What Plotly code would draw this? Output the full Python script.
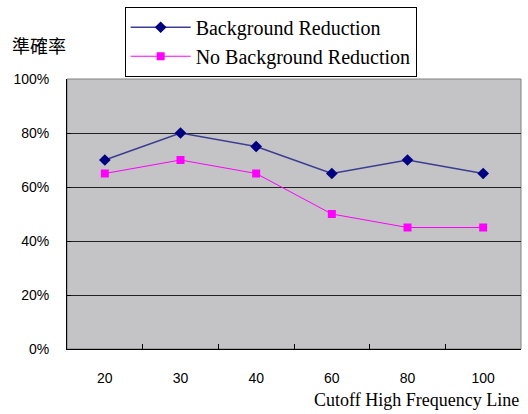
import plotly.graph_objects as go

# Cutoff high-frequency line settings and accuracy (%) per method
cutoffs = ["20", "30", "40", "60", "80", "100"]
with_reduction = [70, 80, 75, 65, 70, 65]
without_reduction = [65, 70, 65, 50, 45, 45]
y_ticks = [0, 20, 40, 60, 80, 100]
y_tick_text = ["0%", "20%", "40%", "60%", "80%", "100%"]

serif = "Liberation Serif, Times New Roman, serif"
sans = "Liberation Sans, Arial, sans-serif"

fig = go.Figure()
fig.add_trace(go.Scatter(
    x=cutoffs, y=with_reduction, mode="lines+markers",
    name="Background Reduction",
    line=dict(color="#3C3C92", width=1.5),
    marker=dict(symbol="diamond", size=9, color="#000080"),
))
fig.add_trace(go.Scatter(
    x=cutoffs, y=without_reduction, mode="lines+markers",
    name="No Background Reduction",
    line=dict(color="#FF00FF", width=1),
    marker=dict(symbol="square", size=8, color="#FF00FF"),
))

fig.update_layout(
    width=528, height=414,
    margin=dict(l=67, r=7, t=79, b=65, autoexpand=False),
    paper_bgcolor="white",
    plot_bgcolor="#C4C3C6",
    showlegend=True,
    legend=dict(
        x=0.127, y=1.138, xanchor="left", yanchor="middle",
        bgcolor="white", bordercolor="black", borderwidth=1,
        font=dict(family=serif, size=20, color="black"),
        itemwidth=60, tracegroupgap=0,
    ),
    xaxis=dict(
        type="category", range=[-0.5, 5.5],
        showgrid=False, zeroline=False,
        showline=True, linecolor="black", linewidth=1,
        ticks="inside", tickson="boundaries", ticklen=5, tickcolor="black",
        tickfont=dict(family=sans, size=14, color="black"),
        ticklabelstandoff=16,
    ),
    yaxis=dict(
        range=[0, 100], tickvals=y_ticks, ticktext=y_tick_text,
        showgrid=True, gridcolor="#222222", gridwidth=1,
        zeroline=False,
        showline=True, linecolor="black", linewidth=1,
        ticks="inside", ticklen=4, tickcolor="black",
        tickfont=dict(family=sans, size=14, color="black"),
        ticklabelstandoff=14,
    ),
    shapes=[dict(
        type="rect", xref="paper", yref="paper", x0=0, x1=1, y0=0, y1=1,
        line=dict(color="#808080", width=1), layer="below",
    )],
    annotations=[
        dict(text="準確率", xref="paper", yref="paper", x=-0.125, y=1.125,
             xanchor="left", yanchor="middle", showarrow=False,
             font=dict(family="Noto Sans CJK TC", size=18, color="black")),
        dict(text="Cutoff High Frequency Line", xref="paper", yref="paper",
             x=1.0, y=-0.235, xanchor="right", yanchor="bottom", showarrow=False,
             font=dict(family=serif, size=18, color="black")),
    ],
)

fig.write_html("out.html")
